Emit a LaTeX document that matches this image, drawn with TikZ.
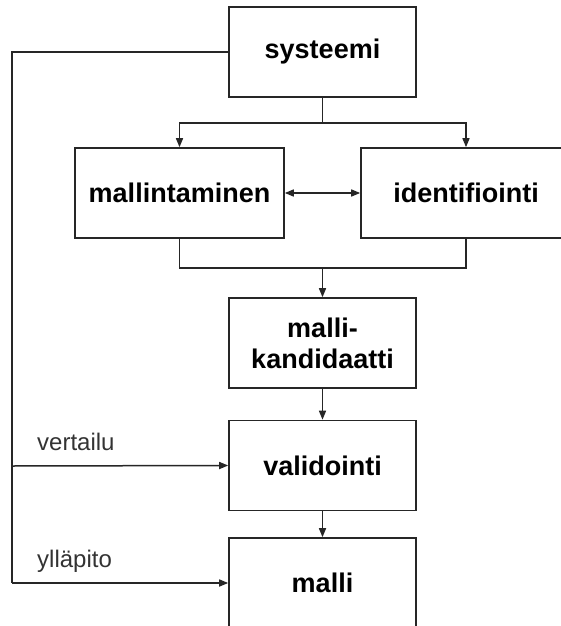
\documentclass[tikz,border=0pt]{standalone}
\usepackage{fontspec}
\setmainfont{Liberation Sans}
\usetikzlibrary{arrows.meta}
\begin{document}
\begin{tikzpicture}[x=1pt,y=-1pt,
  box/.style={draw=black!85, line width=1.6pt, minimum width=187pt, minimum height=90pt, inner sep=0pt, align=center, font=\fontsize{27}{31}\selectfont\bfseries},
  conn/.style={draw=black!85, line width=1.5pt},
  tip/.style={-{Triangle[length=9pt,width=7pt]}},
  arr/.style={conn, tip},
  lbl/.style={anchor=base west, inner sep=0pt, font=\fontsize{24}{28}\selectfont, text=black!80}]
\clip (0,0) rectangle (561,626);
\fill[white] (0,0) rectangle (561,626);
\node[box] (sys) at (322.5,52) {systeemi};
\node[box, minimum width=209pt] (mal) at (179.5,193) {mallintaminen};
\node[box, minimum width=210pt] (ide) at (466,193) {identifiointi};
\node[box] (kand) at (322.5,343) {malli-\\kandidaatti};
\node[box] (val) at (322.5,465.5) {validointi};
\node[box] (malli) at (322.5,583) {malli};
\coordinate (split) at (322.5,123);
\coordinate (merge) at (322.5,268);
\coordinate (corner) at (12,52);
\coordinate (vbr) at (12,466);
\coordinate (ybr) at (12,583);
\draw[conn] (sys.south) -- (split);
\draw[arr] (split) -| (mal.north);
\draw[arr] (split) -| (ide.north);
\draw[conn, {Triangle[length=9pt,width=7pt]}-{Triangle[length=9pt,width=7pt]}] (mal.east) -- (ide.west);
\draw[conn] (mal.south) |- (merge);
\draw[conn] (ide.south) |- (merge);
\draw[arr] (merge) -- (kand.north);
\draw[arr] (kand.south) -- (val.north);
\draw[arr] (val.south) -- (malli.north);
\draw[conn] (sys.west) -- (corner) -- (ybr);
\draw[arr] (vbr) -- (val.west);
\draw[arr] (ybr) -- (malli.west);
\node[lbl] (vlab) at (37,450) {vertailu};
\node[lbl] (ylab) at (37,567) {ylläpito};
\end{tikzpicture}
\end{document}
